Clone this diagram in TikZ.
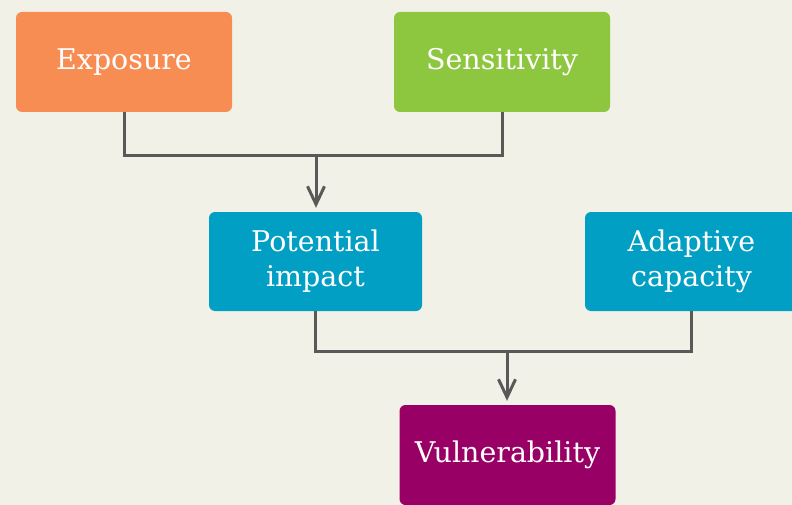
\documentclass[tikz,border=0pt]{standalone}
\usepackage{fontspec}
\setmainfont{DejaVu Serif}
\usetikzlibrary{arrows.meta}
\definecolor{bgc}{HTML}{F2F1E8}
\definecolor{orangec}{HTML}{F78D52}
\definecolor{greenc}{HTML}{8DC63F}
\definecolor{tealc}{HTML}{009FC3}
\definecolor{magc}{HTML}{990066}
\definecolor{linec}{HTML}{595959}
\tikzset{
  box/.style={rounded corners=6pt, text=white, align=center, inner sep=0pt,
    minimum width=216pt, minimum height=100pt, font=\fontsize{28.5}{35}\selectfont},
  conn/.style={draw=linec, line width=3pt},
  arr/.style={conn, -{Straight Barb[length=18pt,width=17pt,line width=3pt]}, shorten >=4pt}
}
\begin{document}
\begin{tikzpicture}[x=1pt,y=-1pt]
\useasboundingbox (0,0) rectangle (792,505);
\clip (0,0) rectangle (792,505);
\fill[bgc] (0,0) rectangle (792,505);
\node[box, fill=orangec] (exp) at (124,62) {Exposure};
\node[box, fill=greenc] (sen) at (502,62) {Sensitivity};
\node[box, fill=tealc, minimum width=213pt, minimum height=99pt] (pot) at (315.5,261.5) {Potential\\impact};
\node[box, fill=tealc, minimum width=213pt, minimum height=99pt] (ada) at (691.5,261.5) {Adaptive\\capacity};
\node[box, fill=magc] (vul) at (507.5,455) {Vulnerability};
\coordinate (j1) at (316,156);
\coordinate (j2) at (507,351);
\draw[conn] (exp.south) |- (j1) -| (sen.south);
\draw[arr] (j1) -- (j1 |- pot.north);
\draw[conn] (pot.south) |- (j2) -| (ada.south);
\draw[arr] (j2) -- (j2 |- vul.north);
\end{tikzpicture}
\end{document}
